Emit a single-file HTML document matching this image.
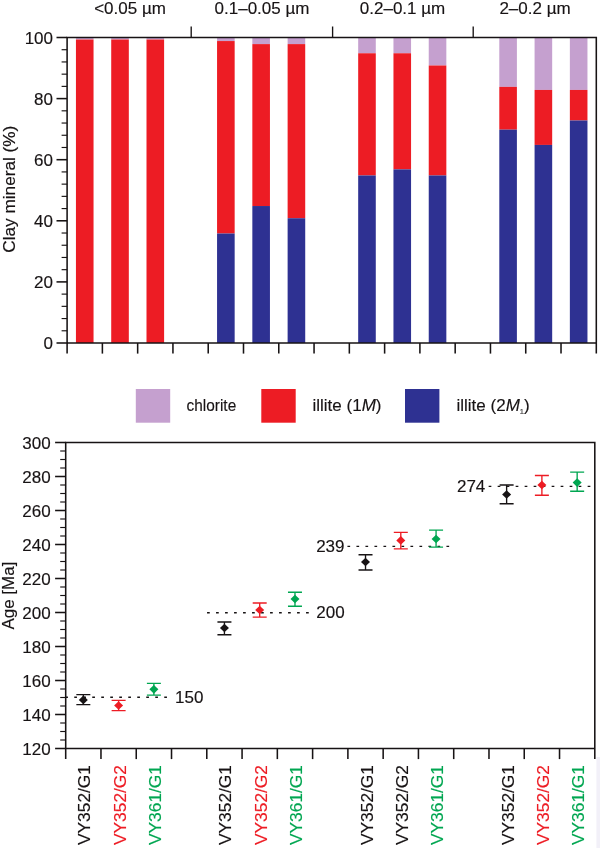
<!DOCTYPE html>
<html><head><meta charset="utf-8"><title>Clay mineral / Age chart</title>
<style>html,body{margin:0;padding:0;background:#fff;}body{width:600px;height:851px;position:relative;overflow:hidden;font-family:"Liberation Sans",sans-serif;}</style></head>
<body>
<svg width="600" height="851" viewBox="0 0 600 851" style="position:absolute;left:0;top:0;will-change:transform;font-family:'Liberation Sans',sans-serif">
<rect x="75.94" y="37.50" width="17.6" height="2.03" fill="#c5a0cf"/>
<rect x="75.94" y="39.53" width="17.6" height="303.47" fill="#ed1c24"/>
<rect x="111.22" y="37.50" width="17.6" height="2.03" fill="#c5a0cf"/>
<rect x="111.22" y="39.53" width="17.6" height="303.47" fill="#ed1c24"/>
<rect x="146.50" y="37.50" width="17.6" height="2.03" fill="#c5a0cf"/>
<rect x="146.50" y="39.53" width="17.6" height="303.47" fill="#ed1c24"/>
<rect x="217.06" y="37.50" width="17.6" height="3.56" fill="#c5a0cf"/>
<rect x="217.06" y="41.06" width="17.6" height="192.46" fill="#ed1c24"/>
<rect x="217.06" y="233.52" width="17.6" height="109.48" fill="#2e3192"/>
<rect x="252.34" y="37.50" width="17.6" height="6.61" fill="#c5a0cf"/>
<rect x="252.34" y="44.11" width="17.6" height="161.91" fill="#ed1c24"/>
<rect x="252.34" y="206.03" width="17.6" height="136.97" fill="#2e3192"/>
<rect x="287.62" y="37.50" width="17.6" height="6.61" fill="#c5a0cf"/>
<rect x="287.62" y="44.11" width="17.6" height="174.13" fill="#ed1c24"/>
<rect x="287.62" y="218.25" width="17.6" height="124.75" fill="#2e3192"/>
<rect x="358.18" y="37.50" width="17.6" height="15.77" fill="#c5a0cf"/>
<rect x="358.18" y="53.27" width="17.6" height="122.20" fill="#ed1c24"/>
<rect x="358.18" y="175.47" width="17.6" height="167.53" fill="#2e3192"/>
<rect x="393.46" y="37.50" width="17.6" height="15.77" fill="#c5a0cf"/>
<rect x="393.46" y="53.27" width="17.6" height="116.09" fill="#ed1c24"/>
<rect x="393.46" y="169.37" width="17.6" height="173.63" fill="#2e3192"/>
<rect x="428.74" y="37.50" width="17.6" height="28.00" fill="#c5a0cf"/>
<rect x="428.74" y="65.50" width="17.6" height="109.98" fill="#ed1c24"/>
<rect x="428.74" y="175.47" width="17.6" height="167.53" fill="#2e3192"/>
<rect x="499.30" y="37.50" width="17.6" height="49.38" fill="#c5a0cf"/>
<rect x="499.30" y="86.88" width="17.6" height="42.77" fill="#ed1c24"/>
<rect x="499.30" y="129.65" width="17.6" height="213.35" fill="#2e3192"/>
<rect x="534.58" y="37.50" width="17.6" height="52.44" fill="#c5a0cf"/>
<rect x="534.58" y="89.94" width="17.6" height="54.99" fill="#ed1c24"/>
<rect x="534.58" y="144.93" width="17.6" height="198.07" fill="#2e3192"/>
<rect x="569.86" y="37.50" width="17.6" height="52.44" fill="#c5a0cf"/>
<rect x="569.86" y="89.94" width="17.6" height="30.55" fill="#ed1c24"/>
<rect x="569.86" y="120.49" width="17.6" height="222.51" fill="#2e3192"/>
<g stroke="#171314" stroke-width="1.55" fill="none">
<path d="M67.1,353.6 V37.5 H596.3 V353.6 M67.1,343.0 H596.3"/>
<path d="M102.38,343.0 v10.6"/>
<path d="M137.66,343.0 v10.6"/>
<path d="M172.94,343.0 v10.6"/>
<path d="M208.22,343.0 v10.6"/>
<path d="M243.50,343.0 v10.6"/>
<path d="M278.78,343.0 v10.6"/>
<path d="M314.06,343.0 v10.6"/>
<path d="M349.34,343.0 v10.6"/>
<path d="M384.62,343.0 v10.6"/>
<path d="M419.90,343.0 v10.6"/>
<path d="M455.18,343.0 v10.6"/>
<path d="M490.46,343.0 v10.6"/>
<path d="M525.74,343.0 v10.6"/>
<path d="M561.02,343.0 v10.6"/>
<path d="M191.2,37.5 v-11" stroke-width="1.35"/>
<path d="M332.6,37.5 v-11" stroke-width="1.35"/>
<path d="M473.2,37.5 v-11" stroke-width="1.35"/>
<path d="M67.1,343.00 h-10.6"/>
<path d="M67.1,330.78 h-5.5" stroke-width="1.15"/>
<path d="M67.1,318.56 h-5.5" stroke-width="1.15"/>
<path d="M67.1,306.34 h-5.5" stroke-width="1.15"/>
<path d="M67.1,294.12 h-5.5" stroke-width="1.15"/>
<path d="M67.1,281.90 h-10.6"/>
<path d="M67.1,269.68 h-5.5" stroke-width="1.15"/>
<path d="M67.1,257.46 h-5.5" stroke-width="1.15"/>
<path d="M67.1,245.24 h-5.5" stroke-width="1.15"/>
<path d="M67.1,233.02 h-5.5" stroke-width="1.15"/>
<path d="M67.1,220.80 h-10.6"/>
<path d="M67.1,208.58 h-5.5" stroke-width="1.15"/>
<path d="M67.1,196.36 h-5.5" stroke-width="1.15"/>
<path d="M67.1,184.14 h-5.5" stroke-width="1.15"/>
<path d="M67.1,171.92 h-5.5" stroke-width="1.15"/>
<path d="M67.1,159.70 h-10.6"/>
<path d="M67.1,147.48 h-5.5" stroke-width="1.15"/>
<path d="M67.1,135.26 h-5.5" stroke-width="1.15"/>
<path d="M67.1,123.04 h-5.5" stroke-width="1.15"/>
<path d="M67.1,110.82 h-5.5" stroke-width="1.15"/>
<path d="M67.1,98.60 h-10.6"/>
<path d="M67.1,86.38 h-5.5" stroke-width="1.15"/>
<path d="M67.1,74.16 h-5.5" stroke-width="1.15"/>
<path d="M67.1,61.94 h-5.5" stroke-width="1.15"/>
<path d="M67.1,49.72 h-5.5" stroke-width="1.15"/>
<path d="M67.1,37.50 h-10.6"/>
</g>
<g font-size="17" fill="#171314" stroke="#171314" stroke-width="0.15">
<text x="53.0" y="349.40" text-anchor="end">0</text>
<text x="53.0" y="288.30" text-anchor="end">20</text>
<text x="53.0" y="227.20" text-anchor="end">40</text>
<text x="53.0" y="166.10" text-anchor="end">60</text>
<text x="53.0" y="105.00" text-anchor="end">80</text>
<text x="53.0" y="43.90" text-anchor="end">100</text>
<text x="130" y="14" text-anchor="middle">&lt;0.05 µm</text>
<text x="262" y="14" text-anchor="middle">0.1–0.05 µm</text>
<text x="402.5" y="14" text-anchor="middle">0.2–0.1 µm</text>
<text x="535" y="14" text-anchor="middle">2–0.2 µm</text>
<text transform="translate(15.4,189.2) rotate(-90)" text-anchor="middle" font-size="17.2">Clay mineral (%)</text>
<rect x="135.8" y="389" width="34.4" height="33.7" fill="#c5a0cf" stroke="none"/>
<rect x="261.3" y="389" width="34.4" height="33.7" fill="#ed1c24" stroke="none"/>
<rect x="405" y="389" width="34.4" height="33.7" fill="#2e3192" stroke="none"/>
<text x="186.6" y="410.8" textLength="49.6" lengthAdjust="spacingAndGlyphs">chlorite</text>
<text x="312.5" y="410.8">illite (1<tspan font-style="italic">M</tspan>)</text>
<text x="456.5" y="410.8">illite (2<tspan font-style="italic">M</tspan><tspan font-size="7.5" dy="3.6" fill="#555">1</tspan><tspan dy="-3.6">)</tspan></text>
</g>
<g stroke="#171314" stroke-width="1.55" fill="none">
<path d="M65.7,759.1 V442.5 H594.8 V759.1 M65.7,748.5 H594.8"/>
<path d="M100.97,748.5 v10.6"/>
<path d="M136.25,748.5 v10.6"/>
<path d="M171.52,748.5 v10.6"/>
<path d="M206.79,748.5 v10.6"/>
<path d="M242.07,748.5 v10.6"/>
<path d="M277.34,748.5 v10.6"/>
<path d="M312.61,748.5 v10.6"/>
<path d="M347.89,748.5 v10.6"/>
<path d="M383.16,748.5 v10.6"/>
<path d="M418.43,748.5 v10.6"/>
<path d="M453.71,748.5 v10.6"/>
<path d="M488.98,748.5 v10.6"/>
<path d="M524.25,748.5 v10.6"/>
<path d="M559.53,748.5 v10.6"/>
<path d="M65.7,748.50 h-10.6"/>
<path d="M65.7,740.00 h-5.5" stroke-width="1.15"/>
<path d="M65.7,731.50 h-5.5" stroke-width="1.15"/>
<path d="M65.7,723.00 h-5.5" stroke-width="1.15"/>
<path d="M65.7,714.50 h-10.6"/>
<path d="M65.7,706.00 h-5.5" stroke-width="1.15"/>
<path d="M65.7,697.50 h-5.5" stroke-width="1.15"/>
<path d="M65.7,689.00 h-5.5" stroke-width="1.15"/>
<path d="M65.7,680.50 h-10.6"/>
<path d="M65.7,672.00 h-5.5" stroke-width="1.15"/>
<path d="M65.7,663.50 h-5.5" stroke-width="1.15"/>
<path d="M65.7,655.00 h-5.5" stroke-width="1.15"/>
<path d="M65.7,646.50 h-10.6"/>
<path d="M65.7,638.00 h-5.5" stroke-width="1.15"/>
<path d="M65.7,629.50 h-5.5" stroke-width="1.15"/>
<path d="M65.7,621.00 h-5.5" stroke-width="1.15"/>
<path d="M65.7,612.50 h-10.6"/>
<path d="M65.7,604.00 h-5.5" stroke-width="1.15"/>
<path d="M65.7,595.50 h-5.5" stroke-width="1.15"/>
<path d="M65.7,587.00 h-5.5" stroke-width="1.15"/>
<path d="M65.7,578.50 h-10.6"/>
<path d="M65.7,570.00 h-5.5" stroke-width="1.15"/>
<path d="M65.7,561.50 h-5.5" stroke-width="1.15"/>
<path d="M65.7,553.00 h-5.5" stroke-width="1.15"/>
<path d="M65.7,544.50 h-10.6"/>
<path d="M65.7,536.00 h-5.5" stroke-width="1.15"/>
<path d="M65.7,527.50 h-5.5" stroke-width="1.15"/>
<path d="M65.7,519.00 h-5.5" stroke-width="1.15"/>
<path d="M65.7,510.50 h-10.6"/>
<path d="M65.7,502.00 h-5.5" stroke-width="1.15"/>
<path d="M65.7,493.50 h-5.5" stroke-width="1.15"/>
<path d="M65.7,485.00 h-5.5" stroke-width="1.15"/>
<path d="M65.7,476.50 h-10.6"/>
<path d="M65.7,468.00 h-5.5" stroke-width="1.15"/>
<path d="M65.7,459.50 h-5.5" stroke-width="1.15"/>
<path d="M65.7,451.00 h-5.5" stroke-width="1.15"/>
<path d="M65.7,442.50 h-10.6"/>
</g>
<g font-size="17" fill="#171314" stroke="#171314" stroke-width="0.15">
<text x="50.7" y="754.60" text-anchor="end">120</text>
<text x="50.7" y="720.60" text-anchor="end">140</text>
<text x="50.7" y="686.60" text-anchor="end">160</text>
<text x="50.7" y="652.60" text-anchor="end">180</text>
<text x="50.7" y="618.60" text-anchor="end">200</text>
<text x="50.7" y="584.60" text-anchor="end">220</text>
<text x="50.7" y="550.60" text-anchor="end">240</text>
<text x="50.7" y="516.60" text-anchor="end">260</text>
<text x="50.7" y="482.60" text-anchor="end">280</text>
<text x="50.7" y="448.60" text-anchor="end">300</text>
<text transform="translate(14.1,595.6) rotate(-90)" text-anchor="middle">Age [Ma]</text>
</g>
<path d="M65.25,697.30 H167.00" stroke="#171314" stroke-width="1.4" stroke-dasharray="2.7,6.3" fill="none"/>
<text x="175" y="703.10" font-size="17" fill="#171314" stroke="#171314" stroke-width="0.15" text-anchor="start">150</text>
<path d="M207.05,612.80 H308.80" stroke="#171314" stroke-width="1.4" stroke-dasharray="2.7,6.3" fill="none"/>
<text x="316.3" y="618.10" font-size="17" fill="#171314" stroke="#171314" stroke-width="0.15" text-anchor="start">200</text>
<path d="M347.45,546.40 H449.20" stroke="#171314" stroke-width="1.4" stroke-dasharray="2.7,6.3" fill="none"/>
<text x="344.5" y="551.80" font-size="17" fill="#171314" stroke="#171314" stroke-width="0.15" text-anchor="end">239</text>
<path d="M488.65,486.40 H590.40" stroke="#171314" stroke-width="1.4" stroke-dasharray="2.7,6.3" fill="none"/>
<text x="485.3" y="492.30" font-size="17" fill="#171314" stroke="#171314" stroke-width="0.15" text-anchor="end">274</text>
<path d="M83.34,694.61 V704.64 M76.34,694.61 h14 M76.34,704.64 h14" stroke="#171314" stroke-width="1.35" fill="none"/>
<path d="M83.34,695.58 l4.5,4.3 l-4.5,4.3 l-4.5,-4.3 z" fill="#171314"/>
<path d="M118.61,700.39 V710.59 M111.61,700.39 h14 M111.61,710.59 h14" stroke="#ed1c24" stroke-width="1.35" fill="none"/>
<path d="M118.61,701.19 l4.5,4.3 l-4.5,4.3 l-4.5,-4.3 z" fill="#ed1c24"/>
<path d="M153.88,683.39 V695.12 M146.88,683.39 h14 M146.88,695.12 h14" stroke="#00a651" stroke-width="1.35" fill="none"/>
<path d="M153.88,685.04 l4.5,4.3 l-4.5,4.3 l-4.5,-4.3 z" fill="#00a651"/>
<path d="M224.43,622.02 V634.77 M217.43,622.02 h14 M217.43,634.77 h14" stroke="#171314" stroke-width="1.35" fill="none"/>
<path d="M224.43,623.67 l4.5,4.3 l-4.5,4.3 l-4.5,-4.3 z" fill="#171314"/>
<path d="M259.70,602.98 V617.09 M252.70,602.98 h14 M252.70,617.09 h14" stroke="#ed1c24" stroke-width="1.35" fill="none"/>
<path d="M259.70,605.65 l4.5,4.3 l-4.5,4.3 l-4.5,-4.3 z" fill="#ed1c24"/>
<path d="M294.98,592.27 V606.21 M287.98,592.27 h14 M287.98,606.21 h14" stroke="#00a651" stroke-width="1.35" fill="none"/>
<path d="M294.98,594.77 l4.5,4.3 l-4.5,4.3 l-4.5,-4.3 z" fill="#00a651"/>
<path d="M365.52,554.70 V570.00 M358.52,554.70 h14 M358.52,570.00 h14" stroke="#171314" stroke-width="1.35" fill="none"/>
<path d="M365.52,557.71 l4.5,4.3 l-4.5,4.3 l-4.5,-4.3 z" fill="#171314"/>
<path d="M400.80,532.43 V548.92 M393.80,532.43 h14 M393.80,548.92 h14" stroke="#ed1c24" stroke-width="1.35" fill="none"/>
<path d="M400.80,536.12 l4.5,4.3 l-4.5,4.3 l-4.5,-4.3 z" fill="#ed1c24"/>
<path d="M436.07,530.05 V547.05 M429.07,530.05 h14 M429.07,547.05 h14" stroke="#00a651" stroke-width="1.35" fill="none"/>
<path d="M436.07,534.76 l4.5,4.3 l-4.5,4.3 l-4.5,-4.3 z" fill="#00a651"/>
<path d="M506.62,485.00 V503.70 M499.62,485.00 h14 M499.62,503.70 h14" stroke="#171314" stroke-width="1.35" fill="none"/>
<path d="M506.62,490.22 l4.5,4.3 l-4.5,4.3 l-4.5,-4.3 z" fill="#171314"/>
<path d="M541.89,475.48 V495.20 M534.89,475.48 h14 M534.89,495.20 h14" stroke="#ed1c24" stroke-width="1.35" fill="none"/>
<path d="M541.89,480.70 l4.5,4.3 l-4.5,4.3 l-4.5,-4.3 z" fill="#ed1c24"/>
<path d="M577.16,472.08 V491.29 M570.16,472.08 h14 M570.16,491.29 h14" stroke="#00a651" stroke-width="1.35" fill="none"/>
<path d="M577.16,478.32 l4.5,4.3 l-4.5,4.3 l-4.5,-4.3 z" fill="#00a651"/>
<text transform="translate(90.34,765) rotate(-90)" text-anchor="end" font-size="17.35" fill="#171314" stroke="#171314" stroke-width="0.15">VY352/G1</text>
<text transform="translate(125.61,765) rotate(-90)" text-anchor="end" font-size="17.35" fill="#ed1c24" stroke="#ed1c24" stroke-width="0.15">VY352/G2</text>
<text transform="translate(160.88,765) rotate(-90)" text-anchor="end" font-size="17.35" fill="#00a651" stroke="#00a651" stroke-width="0.15">VY361/G1</text>
<text transform="translate(231.43,765) rotate(-90)" text-anchor="end" font-size="17.35" fill="#171314" stroke="#171314" stroke-width="0.15">VY352/G1</text>
<text transform="translate(266.70,765) rotate(-90)" text-anchor="end" font-size="17.35" fill="#ed1c24" stroke="#ed1c24" stroke-width="0.15">VY352/G2</text>
<text transform="translate(301.98,765) rotate(-90)" text-anchor="end" font-size="17.35" fill="#00a651" stroke="#00a651" stroke-width="0.15">VY361/G1</text>
<text transform="translate(372.52,765) rotate(-90)" text-anchor="end" font-size="17.35" fill="#171314" stroke="#171314" stroke-width="0.15">VY352/G1</text>
<text transform="translate(407.80,765) rotate(-90)" text-anchor="end" font-size="17.35" fill="#171314" stroke="#171314" stroke-width="0.15">VY352/G2</text>
<text transform="translate(443.07,765) rotate(-90)" text-anchor="end" font-size="17.35" fill="#00a651" stroke="#00a651" stroke-width="0.15">VY361/G1</text>
<text transform="translate(513.62,765) rotate(-90)" text-anchor="end" font-size="17.35" fill="#171314" stroke="#171314" stroke-width="0.15">VY352/G1</text>
<text transform="translate(548.89,765) rotate(-90)" text-anchor="end" font-size="17.35" fill="#ed1c24" stroke="#ed1c24" stroke-width="0.15">VY352/G2</text>
<text transform="translate(584.16,765) rotate(-90)" text-anchor="end" font-size="17.35" fill="#00a651" stroke="#00a651" stroke-width="0.15">VY361/G1</text>
<rect x="596.4" y="757" width="3.6" height="91" fill="#f2f0f8"/>
</svg>
</body></html>
